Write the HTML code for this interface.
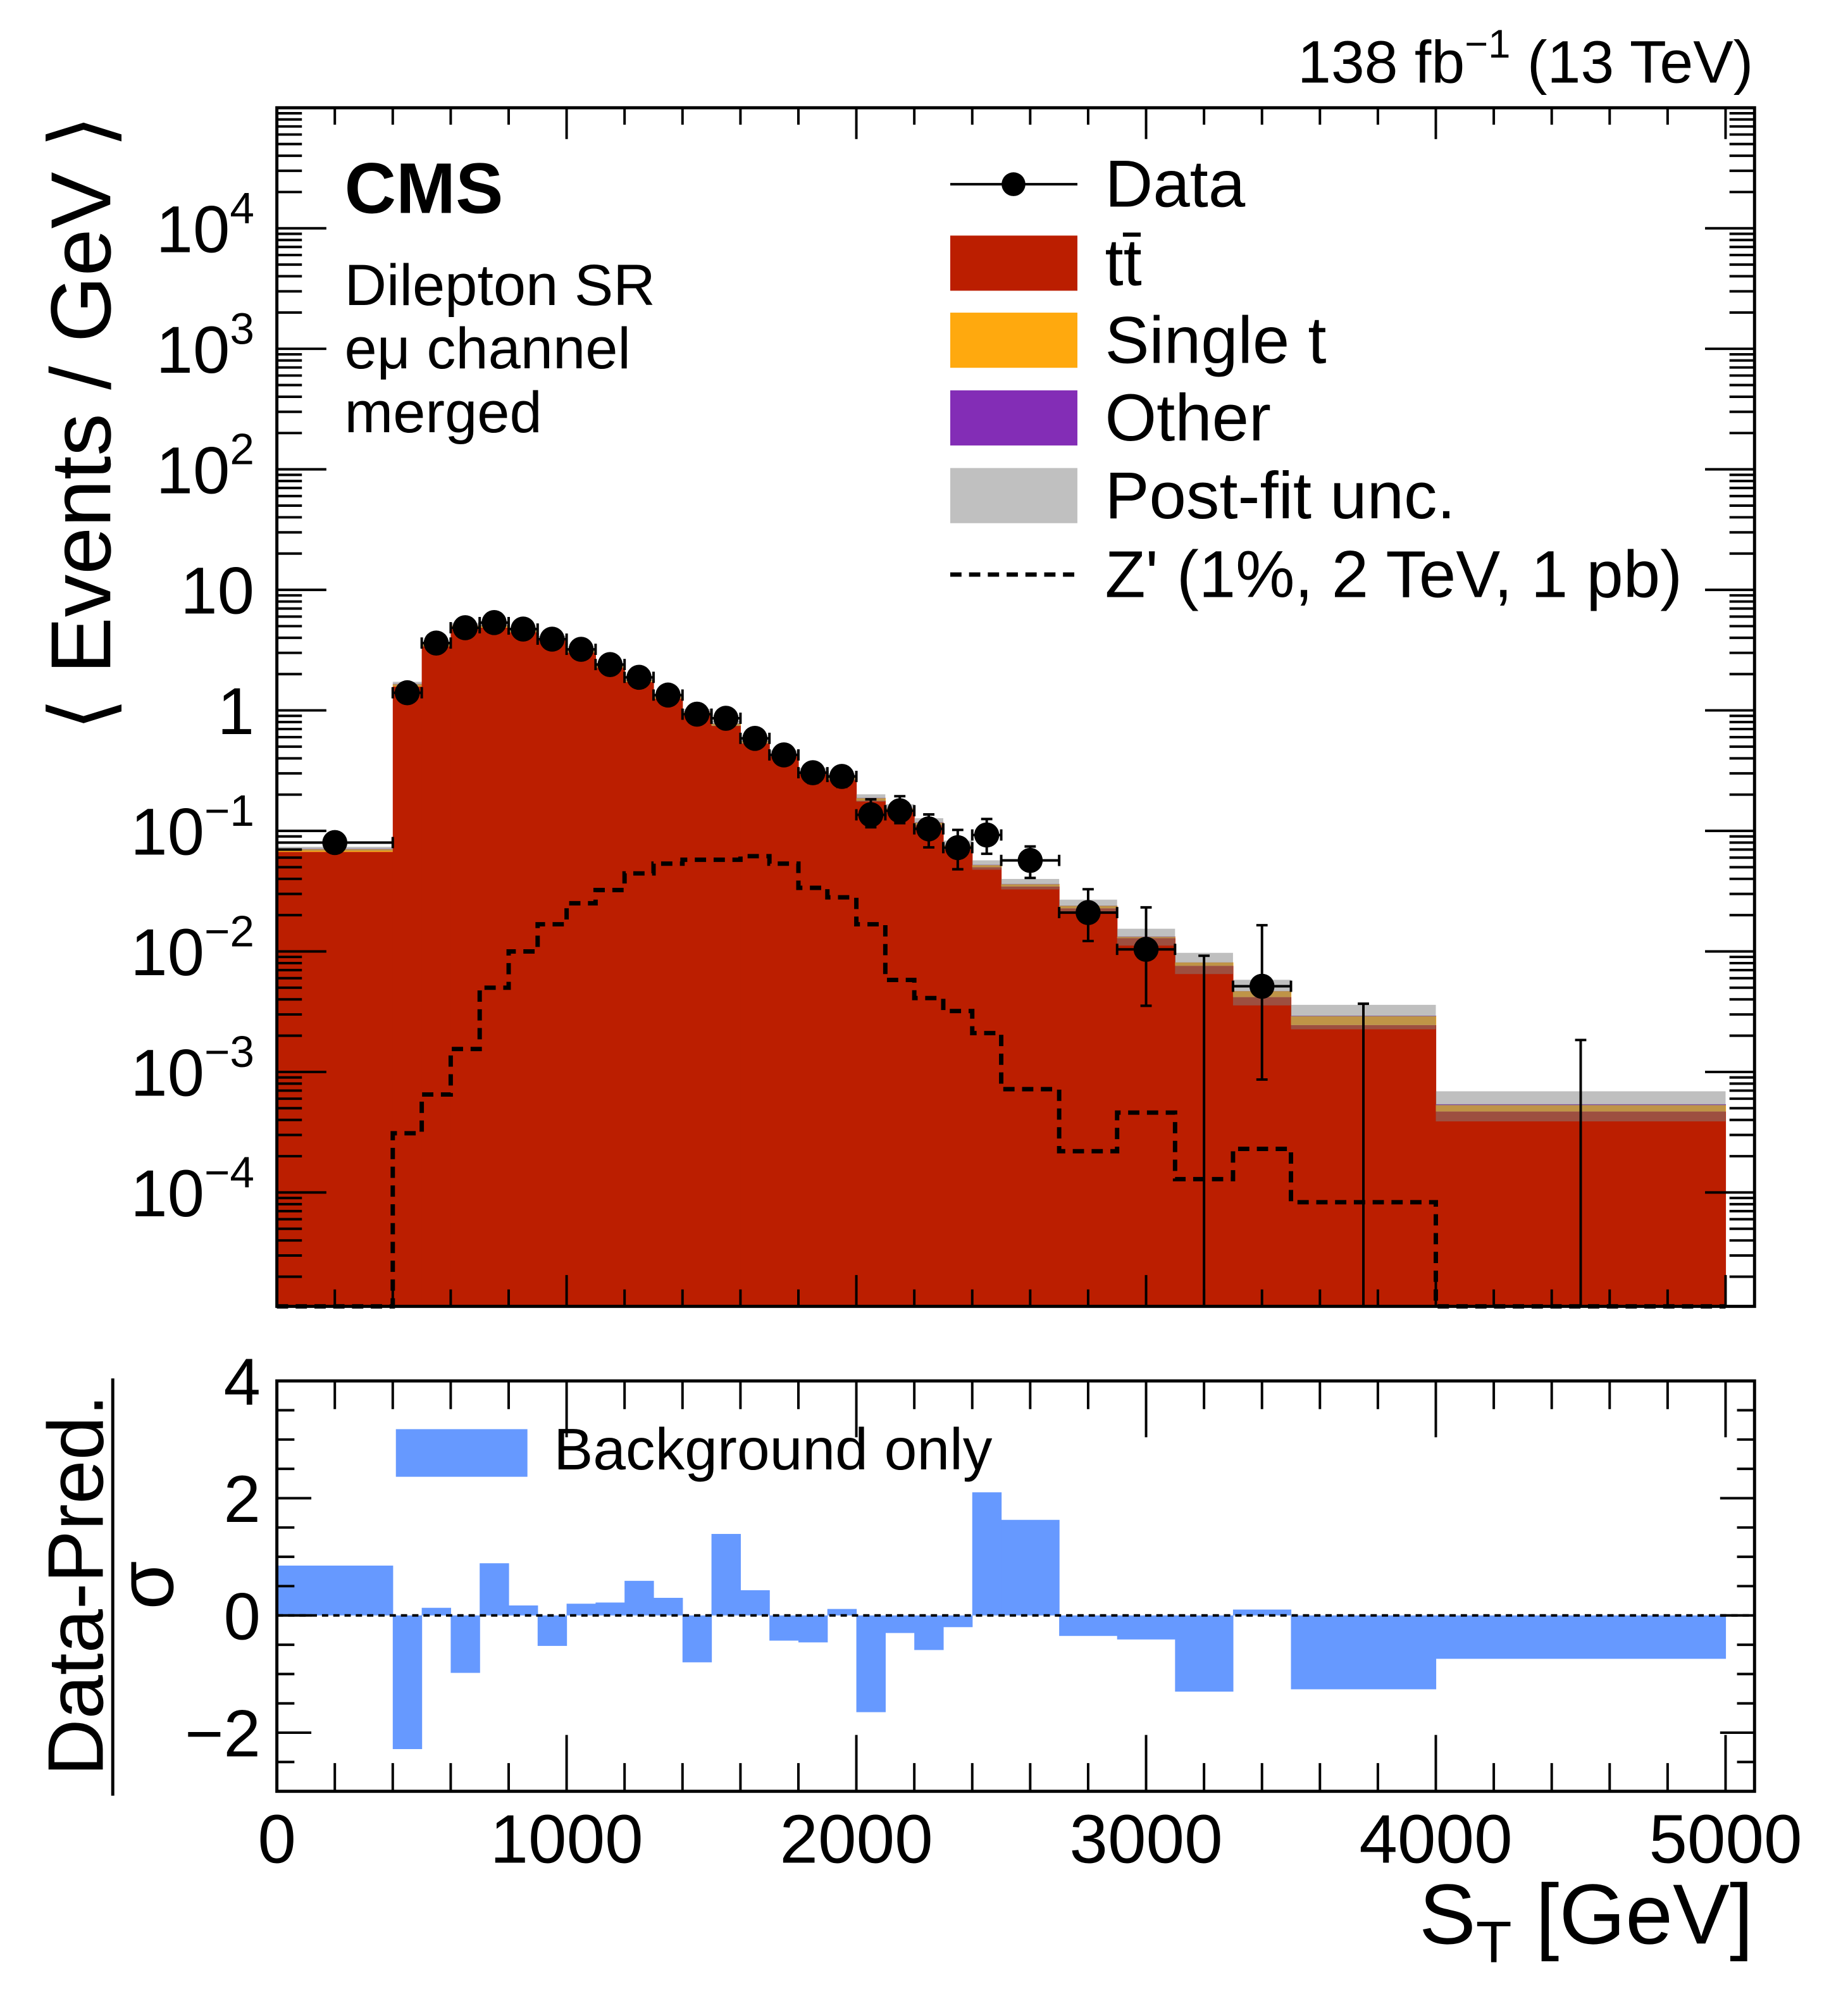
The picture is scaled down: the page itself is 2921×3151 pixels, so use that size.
<!DOCTYPE html>
<html><head><meta charset="utf-8"><style>
html,body{margin:0;padding:0;background:#fff}
svg{display:block}
text{font-family:"Liberation Sans",sans-serif;fill:#000}
</style></head><body>
<svg id="c" width="2921" height="3151" viewBox="0 0 2921 3151" xmlns="http://www.w3.org/2000/svg">
<g transform="scale(0.9901)">
<g id="mainFill"></g>
<g id="sig"></g>
<g id="data"></g>
<g id="ratio"></g>
<g id="axes"></g>
<text x="2799" y="132" font-size="96" text-anchor="end">138 fb<tspan font-size="64" dy="-40">−1</tspan><tspan dy="40"> (13 TeV)</tspan></text>
<text x="550" y="340" font-size="114" font-weight="bold">CMS</text>
<text x="550" y="487" font-size="93">Dilepton SR</text>
<text x="550" y="588" font-size="93">eμ channel</text>
<text x="550" y="690" font-size="93">merged</text>
<g>
<g><line x1="1517" y1="294" x2="1720" y2="294" stroke="#000" stroke-width="4"/><circle cx="1618" cy="294" r="19"/><text x="1764" y="330" font-size="106">Data</text></g>
<g><rect x="1517" y="376" width="203" height="88" fill="#bb1e00"/><text x="1764" y="455" font-size="106">tt̄</text></g>
<g><rect x="1517" y="499" width="203" height="88" fill="#ffa90e"/><text x="1764" y="579" font-size="106">Single t</text></g>
<g><rect x="1517" y="623" width="203" height="88" fill="#832db6"/><text x="1764" y="703" font-size="106">Other</text></g>
<g><rect x="1517" y="747" width="203" height="88" fill="#c0c0c0"/><text x="1764" y="827" font-size="106">Post-fit unc.</text></g>
<g><line x1="1517" y1="917" x2="1720" y2="917" stroke="#000" stroke-width="7" stroke-dasharray="18 12"/><text x="1764" y="953" font-size="106">Z' (1%, 2 TeV, 1 pb)</text></g>
</g>
<g><rect x="632" y="2281" width="210" height="76" fill="#6699ff"/><text x="884" y="2345" font-size="94">Background only</text></g>
<text transform="translate(176,675) rotate(-90)" font-size="136" text-anchor="middle">⟨ Events / GeV ⟩</text>
<g>
<text transform="translate(164,2530) rotate(-90)" font-size="126" text-anchor="middle">Data-Pred.</text>
<line x1="180" y1="2200" x2="180" y2="2866" stroke="#000" stroke-width="5"/>
<text transform="translate(276,2530) rotate(-90)" font-size="126" text-anchor="middle">σ</text>
</g>
<text x="2799" y="3102" font-size="136" text-anchor="end">S<tspan font-size="94" dy="30">T</tspan><tspan dy="-30"> [GeV]</tspan></text>
</g>
</svg>
<script>
const edges=[0,400,500,600,700,800,900,1000,1100,1200,1300,1400,1500,1600,1700,1800,1900,2000,2100,2200,2300,2400,2500,2700,2900,3100,3300,3500,4000,5000];
const dataVals=[0.080,1.40,3.62,4.85,5.35,4.73,3.90,3.21,2.40,1.88,1.34,0.93,0.86,0.586,0.427,0.304,0.283,0.136,0.147,0.104,0.0726,0.0925,0.0569,0.0210,0.0104,0,0.00514,0,0];
const ttVals=[0.067,1.58,3.40,4.85,4.85,4.45,3.82,3.02,2.26,1.72,1.25,0.93,0.745,0.535,0.42,0.30,0.267,0.178,0.147,0.112,0.073,0.050,0.0346,0.0228,0.0129,0.0076,0.00418,0.00245,0.00047];
const stVals=[0.0035,0.07,0.14,0.22,0.22,0.18,0.16,0.12,0.09,0.07,0.05,0.04,0.03,0.022,0.018,0.013,0.011,0.009,0.007,0.005,0.003,0.002,0.0015,0.0011,0.0003,0.0005,0.0005,0.00045,0.00006];
const otherVals=[0.0005,0.01,0.01,0.03,0.03,0.02,0.02,0.01,0.01,0.01,0.01,0.01,0.005,0.003,0.002,0.002,0.002,0.001,0.001,0.001,0.0005,0.0003,0.0002,0.0001,0.0001,0.00001,0.00001,0.00003,0.00001];
const uncRel=[0.04,0.04,0.04,0.04,0.04,0.04,0.04,0.04,0.04,0.04,0.045,0.05,0.05,0.055,0.06,0.06,0.065,0.07,0.075,0.08,0.085,0.09,0.10,0.12,0.16,0.20,0.24,0.23,0.28];
const sigVals=[0,3.1e-4,6.5e-4,1.55e-3,5.0e-3,1.0e-2,0.0168,0.0251,0.0323,0.0444,0.0535,0.0576,0.0576,0.0617,0.0535,0.0337,0.0281,0.0168,5.8e-3,4.1e-3,3.2e-3,2.1e-3,7.2e-4,2.2e-4,4.6e-4,1.29e-4,2.3e-4,8.3e-5,0];
const pullVals=[0.85,-2.28,0.13,-0.98,0.89,0.17,-0.52,0.2,0.22,0.59,0.3,-0.8,1.39,0.43,-0.43,-0.46,0.11,-1.65,-0.3,-0.59,-0.2,2.1,1.63,-0.35,-0.41,-1.3,0.1,-1.26,-0.74];
const xTickLabels=["0","1000","2000","3000","4000","5000"];
const yDecades=[-4,-3,-2,-1,0,1,2,3,4];
const pullTicks=[-2,0,2,4];

const NS="http://www.w3.org/2000/svg";
const L=442,R=2801,T=172,B=2085,RT=2204,RB=2859,XMAX=5100,LMAX=5,LMIN=-4.945;
const X=v=>L+(R-L)*v/XMAX;
const Y=v=>{let lg=v>0?Math.log10(v):LMIN;lg=Math.max(LMIN,Math.min(LMAX,lg));return T+(LMAX-lg)/(LMAX-LMIN)*(B-T);};
const P=v=>RT+(4-v)/7*(RB-RT);
function mk(tag,attrs,parent){const e=document.createElementNS(NS,tag);for(const k in attrs)e.setAttribute(k,attrs[k]);parent.appendChild(e);return e;}
const gF=document.getElementById('mainFill'),gS=document.getElementById('sig'),gD=document.getElementById('data'),gR=document.getElementById('ratio'),gA=document.getElementById('axes');
for(let i=0;i<ttVals.length;i++){
  const x0=X(edges[i]),x1=X(edges[i+1]),w=x1-x0+0.6;
  const tt=ttVals[i],st=stVals[i],ot=otherVals[i],tot=tt+st+ot;
  const r1=mk('rect',{x:x0,y:Y(tt),width:w,height:B-Y(tt),fill:'#bb1e00'},gF);
  
  
  const r2=mk('rect',{x:x0,y:Y(tt+st),width:w,height:Y(tt)-Y(tt+st),fill:'#ffa90e'},gF);
  
  
  const r3=mk('rect',{x:x0,y:Y(tot),width:w,height:Y(tt+st)-Y(tot),fill:'#832db6'},gF);
  
  
  const up=tot*(1+uncRel[i]),lo=tot*(1-uncRel[i]);
  const r4=mk('rect',{x:x0,y:Y(up),width:x1-x0,height:Y(lo)-Y(up),fill:'#808080','fill-opacity':0.5},gF);
  
  
}
let d='M'+X(edges[0])+','+Y(sigVals[0]);
for(let i=0;i<sigVals.length;i++){d+=' L'+X(edges[i])+','+Y(sigVals[i])+' L'+X(edges[i+1])+','+Y(sigVals[i]);}
const sp=mk('path',{d:d,fill:'none',stroke:'#000','stroke-width':7,'stroke-dasharray':'18 12'},gS);


function garwood(n){const t={0:[0,1.841],1:[0.173,3.30],2:[0.708,4.64],3:[1.37,5.92]};if(t[n])return t[n];const s=Math.sqrt(n+0.25);return [n+0.5-s,n+0.5+s];}
for(let i=0;i<dataVals.length;i++){
  const w=edges[i+1]-edges[i],n=Math.round(dataVals[i]*w),[lo,hi]=garwood(n);
  const xc=X((edges[i]+edges[i+1])/2),g=mk('g',{},gD);
  
  
  const yl=Y(lo/w),yh=Y(hi/w);
  mk('line',{x1:xc,y1:yl,x2:xc,y2:yh,stroke:'#000','stroke-width':4},g);
  mk('line',{x1:xc-9,y1:yh,x2:xc+9,y2:yh,stroke:'#000','stroke-width':4},g);
  if(n>0){
    mk('line',{x1:xc-9,y1:yl,x2:xc+9,y2:yl,stroke:'#000','stroke-width':4},g);
    const yc=Y(dataVals[i]),x0=X(edges[i]),x1=X(edges[i+1]);
    mk('line',{x1:x0,y1:yc,x2:x1,y2:yc,stroke:'#000','stroke-width':4},g);
    mk('line',{x1:x0,y1:yc-9,x2:x0,y2:yc+9,stroke:'#000','stroke-width':4},g);
    mk('line',{x1:x1,y1:yc-9,x2:x1,y2:yc+9,stroke:'#000','stroke-width':4},g);
    mk('circle',{cx:xc,cy:yc,r:20,fill:'#000'},g);
  }
}
for(let i=0;i<pullVals.length;i++){
  const x0=X(edges[i]),x1=X(edges[i+1]),p=pullVals[i];
  const r=mk('rect',{x:x0,y:Math.min(P(p),P(0)),width:x1-x0+0.6,height:Math.abs(P(p)-P(0)),fill:'#6699ff'},gR);
  
  
}
mk('line',{x1:L,y1:P(0),x2:R,y2:P(0),stroke:'#000','stroke-width':4,'stroke-dasharray':'10 8'},gA);
const ln=(a,b,c,e,w)=>mk('line',{x1:a,y1:b,x2:c,y2:e,stroke:'#000','stroke-width':w||4},gA);
mk('rect',{x:L,y:T,width:R-L,height:B-T,fill:'none',stroke:'#000','stroke-width':5},gA);
mk('rect',{x:L,y:RT,width:R-L,height:RB-RT,fill:'none',stroke:'#000','stroke-width':5},gA);
for(let v=0;v<=XMAX;v+=200){
  const x=X(v),maj=v%1000===0;
  const a=maj?50:27;ln(x,B,x,B-a);ln(x,T,x,T+a);
  const b=maj?90:45;ln(x,RB,x,RB-b);ln(x,RT,x,RT+b);
}
xTickLabels.forEach(s=>{const t=mk('text',{x:X(+s),y:2973,'font-size':110,'text-anchor':'middle'},gA);t.textContent=s;

});
for(let dd=-5;dd<=4;dd++){for(let m=1;m<=9;m++){const v=m*Math.pow(10,dd),lg=Math.log10(v);if(lg<LMIN||lg>LMAX)continue;const y=Y(v),a=m===1?79:40;ln(L,y,L+a,y);ln(R,y,R-a,y);}}
yDecades.forEach(dd=>{const y=Y(Math.pow(10,dd));const t=mk('text',{x:406,y:y+38,'font-size':106,'text-anchor':'end'},gA);


if(dd===0){t.textContent='1';}else if(dd===1){t.textContent='10';}else{t.textContent='10';const s=mk('tspan',{'font-size':70,dy:-46},t);s.textContent=dd<0?'−'+(-dd):String(dd);}});
for(let v=-3;v<=4;v+=0.5){const y=P(v),maj=Number.isInteger(v)&&v%2===0;const a=maj?55:28;ln(L,y,L+a,y);ln(R,y,R-a,y);}
pullTicks.forEach(v=>{const t=mk('text',{x:416,y:P(v)+38,'font-size':106,'text-anchor':'end'},gA);t.textContent=v<0?'−'+(-v):String(v);

});
</script>
</body></html>
